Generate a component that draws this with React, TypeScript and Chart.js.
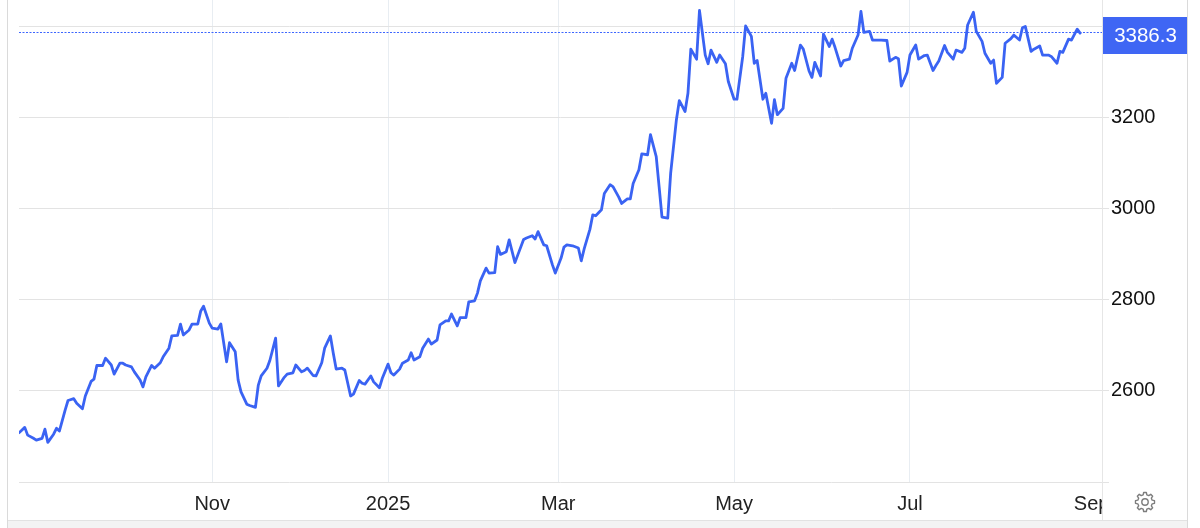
import React, { useEffect, useRef } from 'react';
import { Chart, registerables } from 'chart.js';

Chart.register(...registerables);

// Days counted from 1 Nov 2024 (x values of the daily closes)
const dayOffsets = [
  -67, -65, -64, -62, -61, -59, -58, -57, -55, -54, -53, -51, -50, -48, -47, -45, -44, -42, -41, -40,
  -38, -37, -35, -34, -32, -31, -30, -28, -27, -25, -24, -23, -21, -20, -18, -17, -15, -14, -12, -11,
  -10, -8, -7, -5, -4, -3, -1, 0, 2, 3, 5, 6, 8, 9, 10, 12, 13, 15, 16, 17,
  19, 20, 22, 23, 25, 26, 28, 29, 31, 32, 33, 35, 36, 38, 39, 41, 42, 43, 45, 46,
  48, 49, 51, 52, 53, 55, 56, 58, 59, 61, 62, 63, 65, 66, 68, 69, 70, 72, 73, 75,
  76, 78, 79, 81, 82, 83, 85, 86, 88, 89, 91, 92, 93, 95, 96, 98, 99, 100, 102, 103,
  105, 106, 108, 109, 111, 112, 113, 115, 116, 118, 119, 121, 122, 123, 125, 127, 128, 129, 131, 132,
  133, 135, 136, 138, 139, 141, 142, 144, 145, 146, 148, 149, 151, 152, 154, 155, 156, 158, 159, 161,
  162, 164, 165, 166, 168, 169, 171, 172, 173, 175, 176, 178, 179, 181, 182, 184, 185, 187, 188, 189,
  191, 192, 194, 195, 196, 198, 199, 201, 202, 204, 205, 207, 208, 209, 211, 212, 214, 215, 216, 218,
  219, 221, 222, 224, 225, 226, 228, 229, 231, 232, 234, 235, 237, 238, 239, 241, 242, 244, 245, 247,
  248, 250, 251, 252, 254, 255, 257, 258, 260, 261, 262, 264, 265, 267, 268, 270, 271, 272, 274, 275,
  277, 278, 280, 281, 282, 284, 285, 287, 288, 290, 291, 293, 294, 295, 297, 298, 300, 301,
];

const prices = [
  2508, 2520, 2503, 2496, 2492, 2496, 2516, 2487, 2505, 2518, 2512, 2558, 2579, 2583, 2573, 2561, 2589, 2621, 2626, 2656,
  2656, 2672, 2657, 2637, 2661, 2661, 2657, 2653, 2642, 2624, 2609, 2631, 2656, 2650, 2662, 2675, 2694, 2721, 2722, 2747,
  2723, 2734, 2747, 2747, 2775, 2786, 2749, 2738, 2736, 2747, 2664, 2706, 2686, 2624, 2598, 2571, 2568, 2564, 2613, 2633,
  2650, 2667, 2716, 2611, 2630, 2637, 2640, 2657, 2642, 2645, 2650, 2634, 2633, 2662, 2694, 2721, 2683, 2648, 2650, 2646,
  2589, 2593, 2623, 2617, 2615, 2633, 2620, 2607, 2628, 2659, 2640, 2635, 2648, 2661, 2668, 2684, 2668, 2675, 2694, 2714,
  2703, 2712, 2745, 2754, 2754, 2769, 2743, 2761, 2761, 2796, 2798, 2815, 2842, 2870, 2859, 2860, 2917, 2900, 2906, 2932,
  2882, 2899, 2933, 2936, 2941, 2934, 2950, 2921, 2919, 2877, 2859, 2892, 2916, 2921, 2919, 2914, 2886, 2912, 2955, 2987,
  2985, 2998, 3034, 3053, 3049, 3026, 3012, 3022, 3022, 3056, 3086, 3121, 3119, 3163, 3115, 3049, 2982, 2980, 3078, 3196,
  3238, 3214, 3254, 3351, 3329, 3436, 3338, 3319, 3349, 3322, 3338, 3319, 3280, 3241, 3241, 3335, 3402, 3379, 3320, 3326,
  3241, 3254, 3188, 3240, 3207, 3221, 3287, 3320, 3304, 3360, 3351, 3303, 3289, 3322, 3292, 3384, 3357, 3373, 3355, 3314,
  3326, 3329, 3353, 3382, 3434, 3388, 3390, 3371, 3371, 3371, 3370, 3325, 3333, 3330, 3270, 3300, 3338, 3360, 3329, 3337,
  3338, 3304, 3315, 3325, 3359, 3344, 3329, 3349, 3344, 3353, 3404, 3432, 3390, 3368, 3342, 3320, 3327, 3276, 3289, 3364,
  3374, 3382, 3371, 3398, 3401, 3346, 3351, 3358, 3338, 3338, 3335, 3320, 3346, 3344, 3373, 3371, 3395, 3386.3,
];

const xTickDays = [0, 61, 120, 181, 242, 305];
const xTickLabels = ['Nov', '2025', 'Mar', 'May', 'Jul', 'Sep'];
const yTickValues = [2400, 2600, 2800, 3000, 3200, 3400];
const lastPrice = 3386.3;

const LINE_COLOR = '#3a63f3';
const FONT = '"Liberation Sans", Arial, Helvetica, sans-serif';

const lastValuePlugin = {
  id: 'lastValue',
  afterDraw(chart: any) {
    const { ctx, chartArea, scales } = chart;
    const py = Math.round(scales.y.getPixelForValue(lastPrice)) - 0.5;
    ctx.save();
    ctx.strokeStyle = '#3d66ff';
    ctx.lineWidth = 1;
    ctx.setLineDash([2, 1.5]);
    ctx.beginPath();
    ctx.moveTo(chartArea.left, py);
    ctx.lineTo(chartArea.right, py);
    ctx.stroke();
    ctx.setLineDash([]);
    const bx = chartArea.right + 1;
    const bw = chart.width - bx;
    ctx.fillStyle = '#3f66f4';
    ctx.fillRect(bx, py - 15.5, bw, 37);
    ctx.fillStyle = '#ffffff';
    ctx.font = `20.5px ${FONT}`;
    ctx.textAlign = 'center';
    ctx.textBaseline = 'middle';
    ctx.fillText(lastPrice.toFixed(1), bx + bw / 2, py + 4);
    ctx.restore();
  },
};

function Gear() {
  const teeth = 8;
  const pts: string[] = [];
  const cx = 11, cy = 11, rOut = 9.6, rIn = 7.4;
  for (let i = 0; i < teeth; i++) {
    const a0 = (i / teeth) * Math.PI * 2;
    const step = (Math.PI * 2) / teeth;
    const angs = [a0 - step * 0.18, a0 + step * 0.18, a0 + step * 0.32, a0 + step * 0.68];
    const rads = [rOut, rOut, rIn, rIn];
    for (let k = 0; k < 4; k++) {
      pts.push(`${(cx + rads[k] * Math.cos(angs[k])).toFixed(2)},${(cy + rads[k] * Math.sin(angs[k])).toFixed(2)}`);
    }
  }
  return (
    <svg width="22" height="22" viewBox="0 0 22 22" style={{ position: 'absolute', left: 1134, top: 491 }}>
      <polygon points={pts.join(' ')} fill="none" stroke="#7d7d7d" strokeWidth="1.4" strokeLinejoin="round" />
      <circle cx="11" cy="11" r="3.2" fill="none" stroke="#7d7d7d" strokeWidth="1.4" />
    </svg>
  );
}

export default function App() {
  const canvasRef = useRef<HTMLCanvasElement | null>(null);

  useEffect(() => {
    const canvas = canvasRef.current;
    if (!canvas) return;
    const chart = new Chart(canvas, {
      type: 'line',
      data: {
        datasets: [
          {
            data: dayOffsets.map((d, i) => ({ x: d, y: prices[i] })),
            borderColor: LINE_COLOR,
            borderWidth: 2.8,
            pointRadius: 0,
            tension: 0,
            fill: false,
            borderJoinStyle: 'round',
            borderCapStyle: 'round',
          },
        ],
      },
      options: {
        animation: false,
        responsive: false,
        maintainAspectRatio: false,
        layout: { padding: { left: 19, top: 0, right: 0, bottom: 0 } },
        plugins: { legend: { display: false }, tooltip: { enabled: false } },
        scales: {
          x: {
            type: 'linear',
            min: -67,
            max: 308.6,
            afterBuildTicks: (s: any) => {
              s.ticks = xTickDays.map((v) => ({ value: v }));
            },
            afterFit: (s: any) => {
              s.height = 38;
              s.paddingLeft = 0;
              s.paddingRight = 0;
            },
            border: { display: false },
            grid: {
              color: (c: any) => (c.index === xTickDays.length - 1 ? 'rgba(0,0,0,0)' : '#e8edf2'),
              lineWidth: 1,
              drawTicks: false,
            },
            ticks: {
              autoSkip: false,
              maxRotation: 0,
              padding: 10,
              color: '#222222',
              font: { family: FONT, size: 20 },
              callback: (_v: any, i: number) => xTickLabels[i],
            },
          },
          y: {
            type: 'linear',
            position: 'right',
            min: 2400,
            max: 3459,
            afterBuildTicks: (s: any) => {
              s.ticks = yTickValues.map((v) => ({ value: v }));
            },
            afterFit: (s: any) => {
              s.width = 86;
              s.paddingTop = 0;
              s.paddingBottom = 0;
            },
            border: { display: false },
            grid: { color: '#e3e3e3', lineWidth: 1, drawTicks: true, tickLength: 7 },
            ticks: {
              padding: 2,
              color: '#111111',
              font: { family: FONT, size: 20 },
              callback: (v: any) => (v === 2400 ? '' : String(v)),
            },
          },
        },
      },
      plugins: [lastValuePlugin],
    });
    return () => chart.destroy();
  }, []);

  return (
    <div style={{ position: 'fixed', left: 0, top: 0, width: 1200, height: 528, background: '#ffffff', overflow: 'hidden' }}>
      <canvas ref={canvasRef} width={1188} height={520} style={{ position: 'absolute', left: 0, top: 0, width: 1188, height: 520 }} />
      <div style={{ position: 'absolute', left: 1102, top: 483, width: 85, height: 37, background: '#ffffff' }} />
      <div style={{ position: 'absolute', left: 1101.5, top: 0, width: 1, height: 520, background: '#e6e6e6' }} />
      <div style={{ position: 'absolute', left: 7, top: 0, width: 1, height: 528, background: '#dadada' }} />
      <div style={{ position: 'absolute', left: 1187, top: 0, width: 1, height: 528, background: '#dadada' }} />
      <div style={{ position: 'absolute', left: 8, top: 520, width: 1179, height: 8, background: '#f3f3f3', borderTop: '1px solid #e2e2e2' }} />
      <Gear />
    </div>
  );
}
